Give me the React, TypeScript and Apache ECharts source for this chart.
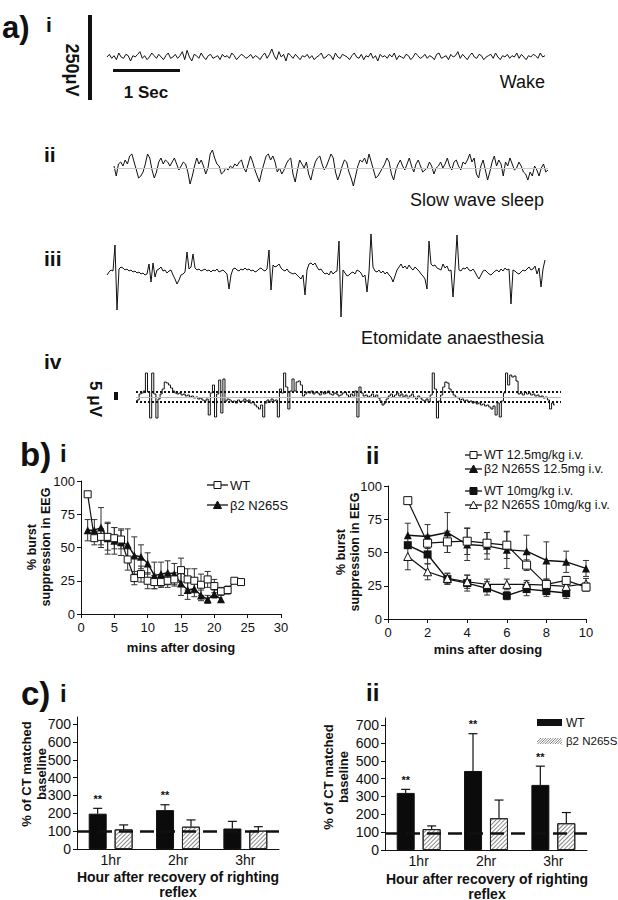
import React, { useEffect, useRef } from "react";
import * as echarts from "echarts";

const FONT = "'Liberation Sans', Arial, Helvetica, sans-serif";
const INK = "#111";

// ---------- a) EEG traces (vertical offsets, up = positive) ----------
const wakeTrace = [0,2,-1,1,-2,3,0,-1,2,1,-3,1,0,2,4,-1,1,-2,0,3,1,-1,2,0,-2,1,3,-1,0,2,-1,1,4,-2,5,0,-3,2,1,-1,3,0,-2,1,2,-1,0,1,-2,2,0,1,-1,3,1,-2,0,2,1,-1,0,2,-1,1,0,-2,1,3,-1,2,6,1,-2,4,0,2,-3,3,1,-1,2,0,-2,1,0,2,-1,1,-2,0,1,3,-1,0,2,1,-2,3,0,-1,2,1,0,-2,1,3,0,-1,2,-2,1,0,3,-1,1,-3,2,0,1,-1,2,0,3,-2,1,0,-1,2,1,-2,0,3,1,-1,0,2,-1,1,0,-2,2,3,-1,0,1,-2,2,0,1,4,-1,2,0,-2,1,3,0,-1,2,1,-2,0,1,2,-1,3,0,-2,1,0,2,-1,1,0,3,-1,2,0,-2,1,0,2,1,-1,3,0,1];

const swsTrace = [2,-8,4,6,2,8,4,12,14,6,-2,-10,-8,-4,4,14,10,-2,-10,-4,6,10,4,8,6,2,6,10,4,-2,2,6,4,-4,-16,-8,2,10,4,8,2,-6,0,14,18,10,4,2,-6,-4,0,-2,2,0,4,2,6,8,0,-4,4,12,6,-2,-8,-14,-4,4,12,14,8,12,6,-4,0,-6,-2,4,8,10,-6,-14,-2,8,4,0,6,-6,-12,-2,6,10,12,4,-2,2,8,14,10,-4,-12,-6,2,8,6,-4,-10,-18,-8,2,8,6,10,4,14,6,-2,-10,-8,-4,0,4,10,6,-6,-12,-2,4,8,2,-2,4,10,2,-4,4,8,2,-4,-2,0,6,2,-6,0,2,6,0,4,10,2,-2,6,8,2,-2,6,4,8,14,6,10,-6,-10,2,8,-2,-12,-4,6,12,2,8,4,-8,6,2,10,4,-2,0,6,2,-4,-6,-12,-4,-8,2,-2,-8,0,4,-4,-2];

const etomidateTrace = [-3,0,2,1,27,-38,3,5,4,2,3,1,2,0,1,-1,0,-2,-1,-3,-2,8,-10,9,-5,2,3,5,1,2,-1,1,2,-3,-7,-12,-8,-3,-2,0,20,3,5,18,4,2,3,1,2,3,1,2,0,2,1,3,0,1,2,0,-2,-17,-3,3,4,2,1,3,2,4,2,3,1,2,0,1,3,4,2,1,3,22,-18,7,5,6,8,4,2,1,3,0,-1,-2,-1,-3,-5,-7,-3,-23,2,8,9,7,9,5,2,3,0,-2,-1,-3,1,-2,0,1,31,-45,2,-1,-4,-3,-1,0,-2,2,1,-1,-5,-3,-20,0,38,5,1,0,2,-1,1,-2,0,-3,-5,-10,-4,2,5,8,4,6,3,7,4,2,5,3,1,-2,-4,-7,-17,31,8,6,7,4,3,2,8,4,6,1,2,-25,3,37,2,1,4,3,5,2,1,3,0,-4,-7,-3,1,2,0,-2,-3,-1,1,2,0,3,1,4,2,3,-32,2,1,-1,-2,0,2,1,3,5,2,3,6,-2,4,-15,3,12];

const burstTrace = [-4,-3,3,4,6,24,5,-21,24,3,-21,-2,3,8,15,14,12,9,6,4,3,4,2,3,1,2,0,1,-1,0,-2,-1,-3,-4,-2,-18,4,12,-20,3,17,-16,18,-4,-2,-3,-5,-4,-6,-3,-5,-4,-2,-4,-3,-6,-5,-8,-10,-12,-8,-20,-6,-3,-5,-2,-4,-3,-20,8,4,24,10,-12,6,18,6,15,16,12,1,3,5,4,6,3,5,4,2,5,3,4,6,3,2,4,3,1,2,4,5,2,0,3,1,6,-20,10,4,1,2,0,1,3,0,2,-1,-4,-8,-6,-2,1,3,0,2,4,1,3,0,2,-1,1,3,0,-2,1,-1,-3,-4,-2,-5,2,24,8,-21,-4,2,10,15,14,8,5,2,0,-1,-3,-2,-4,-3,-5,-4,-6,-5,-7,-6,-8,-7,-9,-8,-10,-12,-9,-18,-6,-20,-4,4,24,12,22,20,21,16,3,4,2,5,3,4,2,3,1,2,0,1,-1,0,-3,-12,-6,-8];
const burstThresholds = [5, -4.5];

// ---------- b) burst suppression ----------
const b1Mins = [1,2,3,4,5,6,7,8,9,10,11,12,13,14,15,16,17,18,19,20,21,22,23,24];
const b1WT = [90,57,58,58,57,56,41,27,30,25,24,24,25,26,33,26,25,22,26,21,17,18,25,24];
const b1WTErr = [0,5,6,10,8,7,8,5,6,6,5,4,5,5,9,8,9,8,6,5,3,3,0,0];
const b1MinsB2 = [1,2,3,4,5,6,7,8,9,10,11,12,13,14,15,16,17,18,19,20,21];
const b1B2 = [63,63,65,57,55,54,52,44,43,38,29,30,31,30,23,18,19,14,11,15,11];
const b1B2Err = [8,8,15,12,10,10,12,14,9,8,10,9,9,8,9,7,6,4,3,3,0];

const b2Mins = [1,2,3,4,5,6,7,8,9,10];
const b2WT125 = [89,57,58,58.5,57,55.5,40.5,26,29,24];
const b2WT125Err = [0,6,8,10,8,10,4,4,3,3];
const b2B2125 = [63,62,65,56,55,52,51,44,43,38];
const b2B2125Err = [9,9,15,12,10,14,12,14,8,6];
const b2MinsWT10 = [1,2,3,4,5,6,7,8,9];
const b2WT10 = [55.5,48.5,30,27,23,17.5,22.5,21,19.5];
const b2WT10Err = [0,7,4,6,5,3,5,4,4];
const b2B210 = [47,35.5,30.5,28,26,26,26,25.5,24.5,26.5];
const b2B210Err = [10,6,4,5,4,4,3,3,4,4];

// ---------- c) CT matched baseline ----------
const cCategories = ["1hr", "2hr", "3hr"];
const c1WT = [198, 218, 115];
const c1WTErr = [30, 30, 40];
const c1B2 = [110, 125, 103];
const c1B2Err = [25, 38, 22];
const c1Sig = [true, true, false];
const c1Baseline = 100;
const c2WT = [320, 443, 365];
const c2WTErr = [20, 209, 105];
const c2B2 = [117, 178, 150];
const c2B2Err = [18, 102, 60];
const c2Sig = [true, true, true];
const c2Baseline = 95;
const cTicks = [0, 100, 200, 300, 400, 500, 600, 700];

function txt(x: number, y: number, text: string, size: number, o: any = {}) {
  return {
    type: "text", x, y, rotation: o.rot || 0, z: 20, silent: true,
    style: {
      text, fontFamily: FONT, fontSize: size, fontWeight: o.bold ? "bold" : "normal",
      fill: INK, align: o.align || "left", verticalAlign: o.va || "middle",
      lineHeight: o.lh || size * 1.15,
    },
  };
}

function traceSeries(gi: number, data: number[], extra: any = {}) {
  return {
    type: "line", xAxisIndex: gi, yAxisIndex: gi, silent: true, showSymbol: false,
    symbol: "none", lineStyle: { color: INK, width: 1 },
    data: data.map((v, i) => [i, v]), z: 3, ...extra,
  };
}

const errRender = (cap: number) => (params: any, api: any) => {
  const x = api.value(0), v = api.value(1), e = api.value(2);
  if (!e) return { type: "group", children: [] };
  const t = api.coord([x, v + e]);
  const b = api.coord([x, v - e]);
  const st = { stroke: "#333", lineWidth: 1 };
  return {
    type: "group",
    children: [
      { type: "line", shape: { x1: t[0], y1: t[1], x2: b[0], y2: b[1] }, style: st },
      { type: "line", shape: { x1: t[0] - cap, y1: t[1], x2: t[0] + cap, y2: t[1] }, style: st },
      { type: "line", shape: { x1: b[0] - cap, y1: b[1], x2: b[0] + cap, y2: b[1] }, style: st },
    ],
  };
};

function errSeries(gi: number, xs: number[], vals: number[], errs: number[]) {
  return {
    type: "custom", xAxisIndex: gi, yAxisIndex: gi, silent: true, z: 1,
    renderItem: errRender(3),
    encode: { x: 0, y: 1 },
    data: xs.map((x, i) => [x, vals[i], errs[i]]),
  };
}

const barErrRender = (offset: number, sig: boolean[] | null) => (params: any, api: any) => {
  const i = api.value(0), v = api.value(1), e = api.value(2);
  const p0 = api.coord([i, v]);
  const p1 = api.coord([i, v + e]);
  const x = p0[0] + offset;
  const st = { stroke: INK, lineWidth: 1.2 };
  const children: any[] = [
    { type: "line", shape: { x1: x, y1: p0[1], x2: x, y2: p1[1] }, style: st },
    { type: "line", shape: { x1: x - 4.5, y1: p1[1], x2: x + 4.5, y2: p1[1] }, style: st },
  ];
  if (sig && sig[params.dataIndex]) {
    children.push({
      type: "text", x, y: p1[1] - 4,
      style: { text: "**", fontFamily: FONT, fontSize: 11, fontWeight: "bold", fill: INK, align: "center", verticalAlign: "bottom" },
    });
  }
  return { type: "group", children };
};

function barErrSeries(gi: number, vals: number[], errs: number[], offset: number, sig: boolean[] | null) {
  return {
    type: "custom", xAxisIndex: gi, yAxisIndex: gi, silent: true, z: 4,
    renderItem: barErrRender(offset, sig),
    encode: { x: 0, y: 1 },
    data: vals.map((v, i) => [i, v, errs[i]]),
  };
}

const hatchDecal = {
  symbol: "rect", symbolSize: 1, dashArrayX: [1, 0], dashArrayY: [1, 2],
  rotation: -Math.PI / 4, color: "#8a8a8a",
};

function barPair(gi: number, wt: number[], b2: number[], base: number) {
  return [
    {
      type: "bar", xAxisIndex: gi, yAxisIndex: gi, silent: true, z: 3,
      barWidth: 18, barGap: "44%", data: wt,
      itemStyle: { color: "#0b0b0b", borderColor: INK, borderWidth: 1 },
      markLine: {
        silent: true, symbol: ["none", "none"], label: { show: false },
        lineStyle: { color: INK, width: 2.6, type: [14, 7] },
        data: [{ yAxis: base }],
      },
    },
    {
      type: "bar", xAxisIndex: gi, yAxisIndex: gi, silent: true, z: 2,
      barWidth: 18, barGap: "44%", data: b2,
      itemStyle: { color: "#fff", borderColor: "#222", borderWidth: 1, decal: hatchDecal },
    },
  ];
}

const axisBase = {
  axisLine: { show: true, onZero: false, lineStyle: { color: INK, width: 1 } },
  axisTick: { show: true, inside: false, length: 4, lineStyle: { color: INK, width: 1 } },
  splitLine: { show: false },
};

function buildOption() {
  const grids = [
    { left: 107, top: 37, width: 438, height: 40 },
    { left: 114, top: 138, width: 434, height: 60 },
    { left: 107, top: 222, width: 438, height: 100 },
    { left: 136, top: 367, width: 425, height: 60 },
    { left: 81, top: 481, width: 200, height: 133 },
    { left: 388, top: 486, width: 198, height: 133 },
    { left: 77, top: 717, width: 202, height: 132 },
    { left: 385, top: 718, width: 202, height: 132 },
  ].map((g) => ({ ...g, containLabel: false, outerBoundsMode: "none" }));

  const hx = (gi: number, n: number, extra = 0) => ({ type: "value", gridIndex: gi, min: 0, max: n - 1 + extra, show: false });
  const hy = (gi: number, lo: number, hi: number) => ({ type: "value", gridIndex: gi, min: lo, max: hi, show: false });
  const tickLabel = (size: number, margin: number) => ({ fontFamily: FONT, fontSize: size, color: INK, margin });

  const xAxis = [
    hx(0, wakeTrace.length), hx(1, swsTrace.length), hx(2, etomidateTrace.length), hx(3, burstTrace.length, 3),
    { ...axisBase, type: "value", gridIndex: 4, min: 0, max: 30, interval: 5, axisLabel: tickLabel(13, 7) },
    { ...axisBase, type: "value", gridIndex: 5, min: 0, max: 10, interval: 2, axisLabel: tickLabel(13, 7) },
    { ...axisBase, type: "category", gridIndex: 6, data: cCategories, axisTick: { show: false }, axisLabel: tickLabel(14, 4) },
    { ...axisBase, type: "category", gridIndex: 7, data: cCategories, axisTick: { show: false }, axisLabel: tickLabel(14, 4) },
  ];
  const cY = (gi: number) => ({
    ...axisBase, type: "value", gridIndex: gi, min: 0, max: 740, interval: 100,
    axisTick: { ...axisBase.axisTick, customValues: cTicks },
    axisLabel: { ...tickLabel(14, 6), customValues: cTicks, formatter: (v: number) => (v % 100 === 0 && v <= 700 ? String(v) : "") },
  });
  const yAxis = [
    hy(0, -15, 15), hy(1, -30, 30), hy(2, -50, 50), hy(3, -30, 30),
    { ...axisBase, type: "value", gridIndex: 4, min: 0, max: 100, interval: 25, axisLabel: tickLabel(13, 6) },
    { ...axisBase, type: "value", gridIndex: 5, min: 0, max: 100, interval: 25, axisLabel: tickLabel(13, 6) },
    cY(6), cY(7),
  ];

  const grayLine = (y: number) => ({
    silent: true, symbol: ["none", "none"], label: { show: false },
    lineStyle: { color: "#c8c8c8", width: 1, type: "solid" }, data: [{ yAxis: y }],
  });

  const series: any[] = [
    traceSeries(0, wakeTrace),
    traceSeries(1, swsTrace, { markLine: grayLine(0) }),
    traceSeries(2, etomidateTrace),
    traceSeries(3, burstTrace, {
      step: "middle",
      markLine: {
        silent: true, symbol: ["none", "none"], label: { show: false },
        data: [
          { yAxis: 0, lineStyle: { color: "#bbb", width: 1, type: "solid" } },
          ...burstThresholds.map((t) => ({ yAxis: t, lineStyle: { color: INK, width: 2.2, type: [2, 2] } })),
        ],
      },
    }),
    // b i
    errSeries(4, b1MinsB2, b1B2, b1B2Err),
    errSeries(4, b1Mins, b1WT, b1WTErr),
    {
      type: "line", xAxisIndex: 4, yAxisIndex: 4, silent: true, z: 3,
      data: b1MinsB2.map((x, i) => [x, b1B2[i]]), symbol: "triangle", symbolSize: 8,
      lineStyle: { color: INK, width: 1.4 }, itemStyle: { color: INK },
    },
    {
      type: "line", xAxisIndex: 4, yAxisIndex: 4, silent: true, z: 4,
      data: b1Mins.map((x, i) => [x, b1WT[i]]), symbol: "rect", symbolSize: 7,
      lineStyle: { color: INK, width: 1.2 }, itemStyle: { color: "#fff", borderColor: INK, borderWidth: 1 },
    },
    // b ii
    errSeries(5, b2Mins, b2WT125, b2WT125Err),
    errSeries(5, b2Mins, b2B2125, b2B2125Err),
    errSeries(5, b2MinsWT10, b2WT10, b2WT10Err),
    errSeries(5, b2Mins, b2B210, b2B210Err),
    {
      type: "line", xAxisIndex: 5, yAxisIndex: 5, silent: true, z: 3,
      data: b2Mins.map((x, i) => [x, b2B2125[i]]), symbol: "triangle", symbolSize: 8,
      lineStyle: { color: INK, width: 1.4 }, itemStyle: { color: INK },
    },
    {
      type: "line", xAxisIndex: 5, yAxisIndex: 5, silent: true, z: 3,
      data: b2MinsWT10.map((x, i) => [x, b2WT10[i]]), symbol: "rect", symbolSize: 8,
      lineStyle: { color: INK, width: 1.4 }, itemStyle: { color: INK },
    },
    {
      type: "line", xAxisIndex: 5, yAxisIndex: 5, silent: true, z: 4,
      data: b2Mins.map((x, i) => [x, b2B210[i]]), symbol: "triangle", symbolSize: 8,
      lineStyle: { color: INK, width: 1.2 }, itemStyle: { color: "#fff", borderColor: INK, borderWidth: 1 },
    },
    {
      type: "line", xAxisIndex: 5, yAxisIndex: 5, silent: true, z: 5,
      data: b2Mins.map((x, i) => [x, b2WT125[i]]), symbol: "rect", symbolSize: 8,
      lineStyle: { color: INK, width: 1.2 }, itemStyle: { color: "#fff", borderColor: INK, borderWidth: 1 },
    },
    // c
    ...barPair(6, c1WT, c1B2, c1Baseline),
    barErrSeries(6, c1WT, c1WTErr, -13, c1Sig),
    barErrSeries(6, c1B2, c1B2Err, 13, null),
    ...barPair(7, c2WT, c2B2, c2Baseline),
    barErrSeries(7, c2WT, c2WTErr, -13, c2Sig),
    barErrSeries(7, c2B2, c2B2Err, 13, null),
  ];

  const hatchLegend: any[] = [];
  for (let k = 0; k < 12; k++) {
    const x0 = 535 + k * 2.5;
    const x1 = Math.min(x0 + 6, 562);
    hatchLegend.push({
      type: "line", silent: true, z: 20,
      shape: { x1: Math.max(x0, 537), y1: 744 - (Math.max(x0, 537) - x0), x2: x1, y2: 744 - (x1 - x0) },
      style: { stroke: "#777", lineWidth: 0.9 },
    });
  }

  const legRow = (x1: number, x2: number, y: number, sym: string, filled: boolean, label: string, size: number) => {
    const cx = (x1 + x2) / 2;
    const els: any[] = [{ type: "line", silent: true, z: 20, shape: { x1, y1: y, x2, y2: y }, style: { stroke: INK, lineWidth: 1.3 } }];
    const st = { fill: filled ? INK : "#fff", stroke: INK, lineWidth: 1 };
    if (sym === "rect") els.push({ type: "rect", silent: true, z: 21, shape: { x: cx - 3.5, y: y - 3.5, width: 7, height: 7 }, style: st });
    else els.push({ type: "polygon", silent: true, z: 21, shape: { points: [[cx, y - 4], [cx - 4, y + 3.5], [cx + 4, y + 3.5]] }, style: st });
    els.push(txt(x2 + 2, y, label, size));
    return els;
  };

  const graphic: any[] = [
    // panel a
    txt(2, 27, "a)", 31, { bold: true }),
    txt(46, 24, "i", 21, { bold: true }),
    { type: "rect", silent: true, z: 20, shape: { x: 88, y: 15, width: 4, height: 85 }, style: { fill: INK } },
    txt(72, 70, "250\u03bcV", 18, { bold: true, align: "center", rot: -Math.PI / 2 }),
    { type: "rect", silent: true, z: 20, shape: { x: 113, y: 69, width: 67, height: 3 }, style: { fill: INK } },
    txt(146, 92, "1 Sec", 17, { bold: true, align: "center" }),
    txt(545, 82, "Wake", 18, { align: "right" }),
    txt(44, 154, "ii", 21, { bold: true }),
    txt(544, 200, "Slow wave sleep", 18, { align: "right" }),
    txt(44, 258, "iii", 21, { bold: true }),
    txt(544, 338, "Etomidate anaesthesia", 18, { align: "right" }),
    txt(44, 361, "iv", 21, { bold: true }),
    txt(95, 399, "5 \u03bcV", 17, { bold: true, align: "center", rot: -Math.PI / 2 }),
    { type: "rect", silent: true, z: 20, shape: { x: 114, y: 392, width: 4, height: 8 }, style: { fill: INK } },
    // panel b
    txt(20, 454, "b)", 33, { bold: true }),
    txt(60, 453, "i", 24, { bold: true }),
    txt(366, 455, "ii", 24, { bold: true }),
    txt(39, 547, "% burst\nsuppression in EEG", 12.5, { bold: true, align: "center", rot: Math.PI / 2, lh: 14 }),
    txt(348, 552, "% burst\nsuppression in EEG", 12.5, { bold: true, align: "center", rot: Math.PI / 2, lh: 14 }),
    txt(181, 647, "mins after dosing", 13, { bold: true, align: "center" }),
    txt(488, 649, "mins after dosing", 13, { bold: true, align: "center" }),
    ...legRow(207, 228, 485, "rect", false, "WT", 13),
    ...legRow(207, 228, 505, "tri", true, "\u03b22 N265S", 13),
    ...legRow(465, 482, 455, "rect", false, "WT 12.5mg/kg i.v.", 12.5),
    ...legRow(465, 482, 469, "tri", true, "\u03b22 N265S 12.5mg i.v.", 12.5),
    ...legRow(465, 482, 491, "rect", true, "WT 10mg/kg i.v.", 12.5),
    ...legRow(465, 482, 505, "tri", false, "\u03b22 N265S 10mg/kg i.v.", 12.5),
    // panel c
    txt(21, 693, "c)", 33, { bold: true }),
    txt(60, 693, "i", 24, { bold: true }),
    txt(366, 692, "ii", 24, { bold: true }),
    txt(34, 774, "% of CT matched\nbaseline", 13, { bold: true, align: "center", rot: Math.PI / 2, lh: 15 }),
    txt(336, 777, "% of CT matched\nbaseline", 13, { bold: true, align: "center", rot: Math.PI / 2, lh: 15 }),
    txt(178, 884, "Hour after recovery of righting\nreflex", 14, { bold: true, align: "center", lh: 15 }),
    txt(487, 886, "Hour after recovery of righting\nreflex", 14, { bold: true, align: "center", lh: 15 }),
    { type: "rect", silent: true, z: 20, shape: { x: 537, y: 719, width: 25, height: 7 }, style: { fill: INK } },
    txt(566, 723, "WT", 12),
    ...hatchLegend,
    txt(566, 741, "\u03b22 N265S", 11.5),
  ];

  return {
    animation: false,
    backgroundColor: "#fff",
    textStyle: { fontFamily: FONT },
    grid: grids,
    xAxis,
    yAxis,
    series,
    graphic,
  };
}

export default function App() {
  const ref = useRef<HTMLDivElement>(null);
  useEffect(() => {
    const chart = echarts.init(ref.current as HTMLDivElement, null, { renderer: "svg" });
    chart.setOption(buildOption() as any);
    return () => chart.dispose();
  }, []);
  return (
    <div
      ref={ref}
      style={{ position: "absolute", left: 0, top: 0, width: 618, height: 900, background: "#fff" }}
    />
  );
}
